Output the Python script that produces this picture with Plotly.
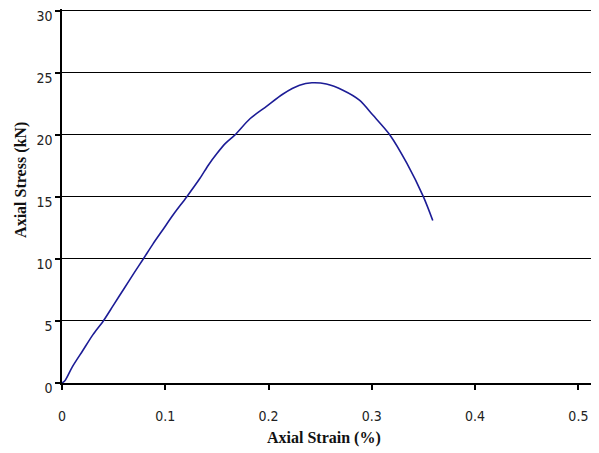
import plotly.graph_objects as go

strain = [0.0, 0.003, 0.01, 0.02, 0.03, 0.04, 0.05, 0.06, 0.07, 0.0787, 0.088, 0.098, 0.108, 0.1207,
          0.1336, 0.142, 0.150, 0.158, 0.1675, 0.182, 0.198, 0.214, 0.230, 0.242, 0.256, 0.272,
          0.288, 0.301, 0.3175, 0.334, 0.350, 0.359]
stress = [0.0, 0.2, 1.3, 2.6, 3.9, 5.0, 6.3, 7.6, 8.9, 10.0, 11.2, 12.4, 13.6, 15.0,
          16.5, 17.6, 18.5, 19.3, 20.0, 21.3, 22.3, 23.3, 24.0, 24.2, 24.1, 23.6,
          22.8, 21.6, 20.0, 17.7, 15.0, 13.1]

x_ticks = [0, 0.1, 0.2, 0.3, 0.4, 0.5]
x_labels = ["0", "0.1", "0.2", "0.3", "0.4", "0.5"]
y_ticks = [0, 5, 10, 15, 20, 25, 30]

tick_font = dict(family="Liberation Sans Narrow, DejaVu Sans Condensed, Liberation Sans, sans-serif",
                 size=14, color="#222")
title_font = dict(family="Liberation Serif, Times New Roman, serif", size=16, color="#111")

fig = go.Figure(go.Scatter(x=strain, y=stress, mode="lines",
                           line=dict(color="#1c1c96", width=1.6, shape="spline", smoothing=0.8),
                           showlegend=False))

# page body has an 8px margin, so the figure is sized/margined to compensate
fig.update_layout(
    width=591, height=445,
    margin=dict(l=54, r=1, t=1, b=70),
    paper_bgcolor="white", plot_bgcolor="white",
    annotations=[
        dict(text="<b>Axial Strain (%)</b>", xref="paper", yref="paper", x=0.489, y=-0.147,
             xanchor="center", yanchor="middle", showarrow=False, font=title_font),
        dict(text="<b>Axial Stress (kN)</b>", xref="paper", yref="paper", x=-0.0765, y=0.543,
             xanchor="center", yanchor="middle", showarrow=False, textangle=-90, font=title_font),
    ],
)
fig.update_xaxes(range=[0, 0.519], tickvals=x_ticks, ticktext=x_labels, automargin=False,
                 showgrid=False, zeroline=False, showline=True, linecolor="black", linewidth=1.5,
                 ticks="outside", ticklen=5, tickcolor="black", tickwidth=1.5,
                 ticklabelstandoff=14, tickfont=tick_font)
fig.update_yaxes(range=[0, 30.15], tickvals=y_ticks, automargin=False,
                 showgrid=True, gridcolor="black", gridwidth=1.2, zeroline=False,
                 showline=True, linecolor="black", linewidth=1.5,
                 ticks="outside", ticklen=5, tickcolor="black", tickwidth=1.5,
                 ticklabelshift=5, ticklabeloverflow="allow", tickfont=tick_font)

fig.write_html("out.html")
